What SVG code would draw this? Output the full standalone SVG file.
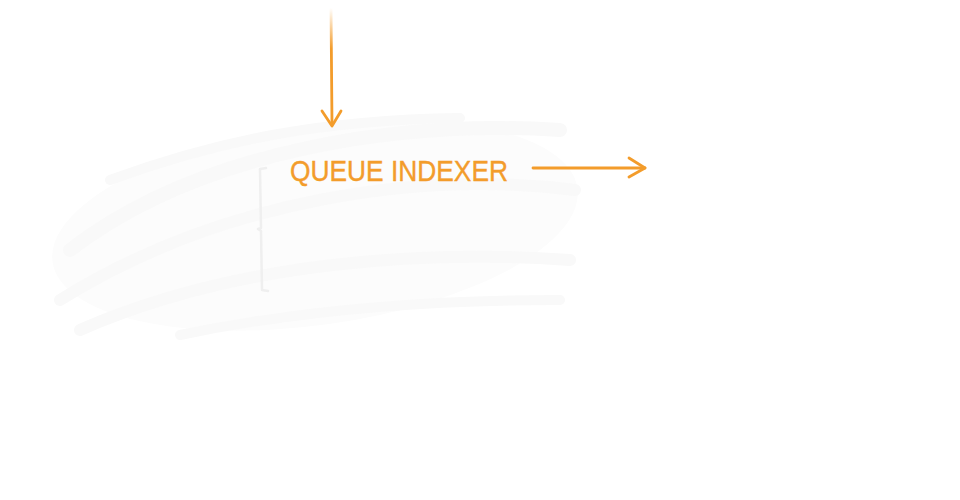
<svg xmlns="http://www.w3.org/2000/svg" width="960" height="500" viewBox="0 0 960 500">
<defs>
<style>
.wash{fill:none;stroke:#f9f9f9;stroke-linecap:round}
.conn{fill:none;stroke:#f39c2b;stroke-width:2.8;stroke-linecap:round;stroke-linejoin:round}
.label{font-family:"Comic Sans MS","Liberation Sans",sans-serif;font-size:29px;fill:#f39c2b;stroke:#f39c2b;stroke-width:0.4}
.bracket{fill:none;stroke:#efefef;stroke-width:2.5;stroke-linecap:round;stroke-linejoin:round}
</style>
<linearGradient id="fade" x1="0" y1="0" x2="0" y2="1">
<stop offset="0" stop-color="#f39c2b" stop-opacity="0"/>
<stop offset="0.35" stop-color="#f39c2b" stop-opacity="1"/>
</linearGradient>
</defs>
<rect width="960" height="500" fill="#ffffff"/>
<g id="background">
<ellipse cx="315" cy="225" rx="265" ry="100" transform="rotate(-8 315 225)" fill="#fcfcfc"/>
<path class="wash" stroke-width="14" d="M70 250 C200 150 400 120 560 130"/>
<path class="wash" stroke-width="12" d="M60 300 C220 200 420 170 575 190"/>
<path class="wash" stroke-width="12" d="M80 330 C240 260 430 250 570 260"/>
<path class="wash" stroke-width="10" d="M180 335 C300 310 430 300 560 300"/>
<path class="wash" stroke-width="10" d="M110 180 C220 140 320 120 460 118"/>
</g>
<g id="node-queue-indexer">
<path class="bracket" d="M266 168 L260 169 L261 228 L258 229 L261 231 L262 290 L268 291"/>
<text class="label" x="290" y="181" textLength="218" lengthAdjust="spacingAndGlyphs">QUEUE INDEXER</text>
</g>
<g id="connectors">
<path d="M331 8 L332 124" fill="none" stroke="url(#fade)" stroke-width="2.8" stroke-linecap="round"/>
<path class="conn" d="M322 111 L332 126 L341 111"/>
<path class="conn" d="M533 168 L645 168"/>
<path class="conn" d="M629 158 L645 168 L629 177"/>
</g>
</svg>
